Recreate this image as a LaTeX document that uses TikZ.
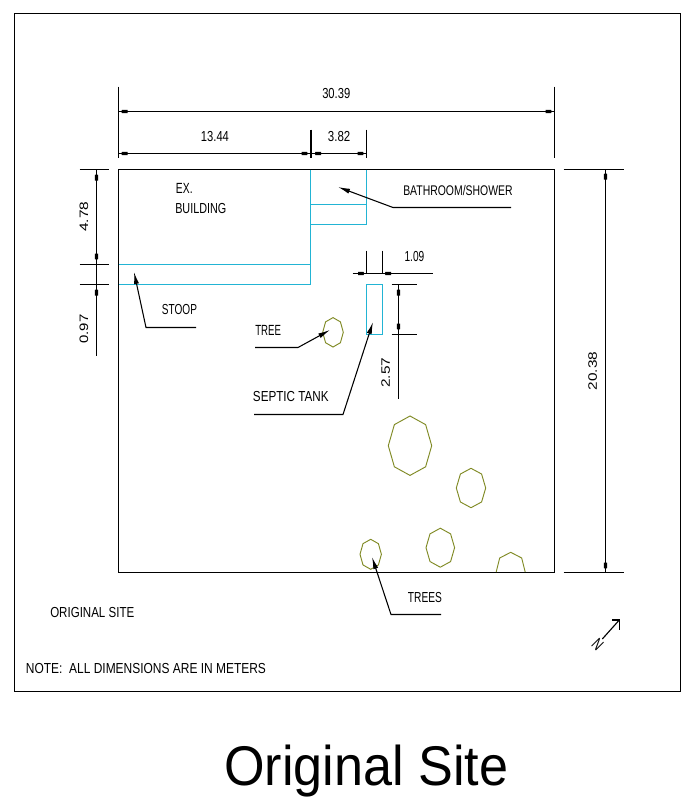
\documentclass[tikz,border=0pt]{standalone}
\usepackage{graphicx}
\usepackage{fontspec}
\setmainfont{Liberation Sans}
\usetikzlibrary{arrows.meta}
\definecolor{cadcyan}{HTML}{22B4D4}
\definecolor{cadolive}{HTML}{808A24}
\newcommand{\cadtext}[2]{\resizebox{#1pt}{7.6pt}{#2}}
\newcommand{\cadrotxt}[2]{\resizebox{#1pt}{6.4pt}{#2}}
\tikzset{
  ink/.style={black,line width=0.85pt},
  heavyink/.style={black,line width=1.4pt},
  wall/.style={cadcyan,line width=0.95pt},
  treeline/.style={cadolive,line width=0.7pt},
  leader/.style={black,line width=0.8pt,-{Latex[length=9pt,width=3.8pt]}},
  label/.style={inner sep=0pt,anchor=west},
  rotlabel/.style={inner sep=0pt,rotate=90},
  pics/dimtip/.style={code={\fill[black] (0,0)--(2,-0.5)--(2.5,-1.7)--(8,-1.7)--(8,1.7)--(2.5,1.7)--(2,0.5)--cycle;}}
}
\newcommand{\octree}[4]{%
  \draw[treeline] ({#1},{#2-#4}) -- ({#1+0.72*#3},{#2-0.71*#4}) -- ({#1+#3},{#2}) -- ({#1+0.72*#3},{#2+0.71*#4}) -- ({#1},{#2+#4}) -- ({#1-0.72*#3},{#2+0.71*#4}) -- ({#1-#3},{#2}) -- ({#1-0.72*#3},{#2-0.71*#4}) -- cycle;}
\begin{document}
\begin{tikzpicture}[x=0.75pt,y=-0.75pt]
\useasboundingbox (0,0) rectangle (691,804);
\fill[white] (0,0) rectangle (691,804);
\begin{scope}[shift={(0,0)}]
% frame
\draw[ink] (14.5,13.5) rectangle (680.5,691.5);
% site outline
\draw[ink] (118.5,572.5) -- (118.5,169.5) -- (554.5,169.5) -- (554.5,572.5) -- cycle;
% building (cyan)
\draw[wall] (310.5,169.5) -- (310.5,284.5) -- (118.5,284.5);
\draw[wall] (118.5,264.5) -- (310.5,264.5);
\draw[wall] (366.5,169.5) -- (366.5,224.5) -- (310.5,224.5);
\draw[wall] (310.5,204.5) -- (366.5,204.5);
\draw[wall] (366.5,284.5) rectangle (382.5,334.5);
% trees
\octree{333}{332.3}{10.3}{14.7}
\octree{410}{445.7}{21.7}{29.7}
\octree{471}{488}{14.7}{19.7}
\octree{440.3}{547.7}{14.3}{19.5}
\octree{370.7}{554.3}{10.7}{15}
\draw[treeline] (496.2,572) -- (499.7,558) -- (510.7,552.3) -- (521.7,558) -- (525.2,572);
% top dimensions
\draw[ink] (118.5,86.5) -- (118.5,157.5);
\draw[ink] (554.5,86.5) -- (554.5,157.5);
\draw[heavyink] (311,129.5) -- (311,157.5);
\draw[ink] (366.5,129.5) -- (366.5,157.5);
\draw[ink] (118.5,111.5) -- (554.5,111.5);
\draw[ink] (118.5,153.5) -- (366.5,153.5);
\path (119.5,111.5) pic {dimtip} (553.5,111.5) pic[rotate=180] {dimtip};
\path (119.5,153.5) pic {dimtip} (309.5,153.5) pic[rotate=180] {dimtip};
\path (313,153.5) pic {dimtip} (365.5,153.5) pic[rotate=180] {dimtip};
% left dimensions
\draw[ink] (79.5,169.5) -- (108.5,169.5);
\draw[ink] (79.5,264.5) -- (108.5,264.5);
\draw[ink] (79.5,284.5) -- (108.5,284.5);
\draw[ink] (96.5,169.5) -- (96.5,355.5);
\path (96.5,172.5) pic[rotate=-90] {dimtip};
\path (96.5,261.5) pic[rotate=90] {dimtip};
\path (96.5,287.5) pic[rotate=-90] {dimtip};
% septic dimensions
\draw[ink] (366.5,250.5) -- (366.5,273.5);
\draw[ink] (382.5,250.5) -- (382.5,273.5);
\draw[ink] (352.5,273.5) -- (432.5,273.5);
\path (366,273.5) pic[rotate=180] {dimtip} (383,273.5) pic {dimtip};
\draw[ink] (391.5,284.5) -- (416.5,284.5);
\draw[ink] (391.5,334.5) -- (416.5,334.5);
\draw[ink] (398.5,284.5) -- (398.5,398.5);
\path (398.5,287.5) pic[rotate=-90] {dimtip};
\path (398.5,331.5) pic[rotate=90] {dimtip};
% right dimension
\draw[ink] (563.5,169.5) -- (623.5,169.5);
\draw[ink] (563.5,572.5) -- (623.5,572.5);
\draw[ink] (605.5,169.5) -- (605.5,572.5);
\path (605.5,171.5) pic[rotate=-90] {dimtip};
\path (605.5,570.5) pic[rotate=90] {dimtip};
% leaders
\coordinate (bathEnd) at (511,207.5);
\coordinate (bathTip) at (338,187);
\draw[leader] (bathEnd) -- (393,207.5) -- (bathTip);
\coordinate (stoopEnd) at (196,327.5);
\coordinate (stoopTip) at (134,272);
\draw[leader] (stoopEnd) -- (146,327.5) -- (stoopTip);
\coordinate (treeEnd) at (255,347.5);
\coordinate (treeTip) at (330,330);
\draw[leader] (treeEnd) -- (298,347.5) -- (treeTip);
\coordinate (septicEnd) at (254,414.5);
\coordinate (septicTip) at (373,322);
\draw[leader] (septicEnd) -- (343,414.5) -- (septicTip);
\coordinate (treesEnd) at (441,614.5);
\coordinate (treesTip) at (372,557);
\draw[leader] (treesEnd) -- (391,614.5) -- (treesTip);
% north arrow
\coordinate (northTail) at (602.3,639);
\coordinate (northHead) at (619.3,620);
\draw[ink] (northTail) -- (northHead);
\draw[ink] (612.3,620) -- (northHead) -- (619.3,630);
\node[inner sep=0pt,rotate=-45] (north) at (597.7,644.3) {\resizebox{6.5pt}{8.5pt}{N}};
% labels
\node[label] (d1) at (322,93.3) {\cadtext{21}{30.39}};
\node[label] (d2) at (200.7,136.7) {\cadtext{21}{13.44}};
\node[label] (d3) at (327.7,136.7) {\cadtext{16.8}{3.82}};
\node[label] (d4) at (404.3,256.7) {\cadtext{14.8}{1.09}};
\node[rotlabel] (d5) at (84,216.7) {\cadrotxt{22.5}{4.78}};
\node[rotlabel] (d6) at (84,329) {\cadrotxt{21.8}{0.97}};
\node[rotlabel] (d7) at (385.7,372.7) {\cadrotxt{22.5}{2.57}};
\node[rotlabel] (d8) at (592.7,371) {\cadrotxt{28.8}{20.38}};
\node[label] (ex) at (175.7,188) {\cadtext{12.5}{EX.}};
\node[label] (bld) at (175,208.7) {\cadtext{38.3}{BUILDING}};
\node[label] (bath) at (403,190) {\cadtext{82}{BATHROOM/SHOWER}};
\node[label] (stoop) at (161.7,309) {\cadtext{26.3}{STOOP}};
\node[label] (tree) at (255,330) {\cadtext{19.3}{TREE}};
\node[label] (septic) at (252.7,396.7) {\cadtext{56.8}{SEPTIC TANK}};
\node[label] (trees) at (407.7,597) {\cadtext{25.5}{TREES}};
\node[label] (orig) at (50,612) {\cadtext{63}{ORIGINAL SITE}};
\node[label] (note) at (25.7,668) {\cadtext{180}{NOTE:\ \ ALL DIMENSIONS ARE IN METERS}};
\node[inner sep=0pt,anchor=base west] (title) at (224,785) {\resizebox{213pt}{30.4pt}{Original Site}};
\end{scope}
\end{tikzpicture}
\end{document}
